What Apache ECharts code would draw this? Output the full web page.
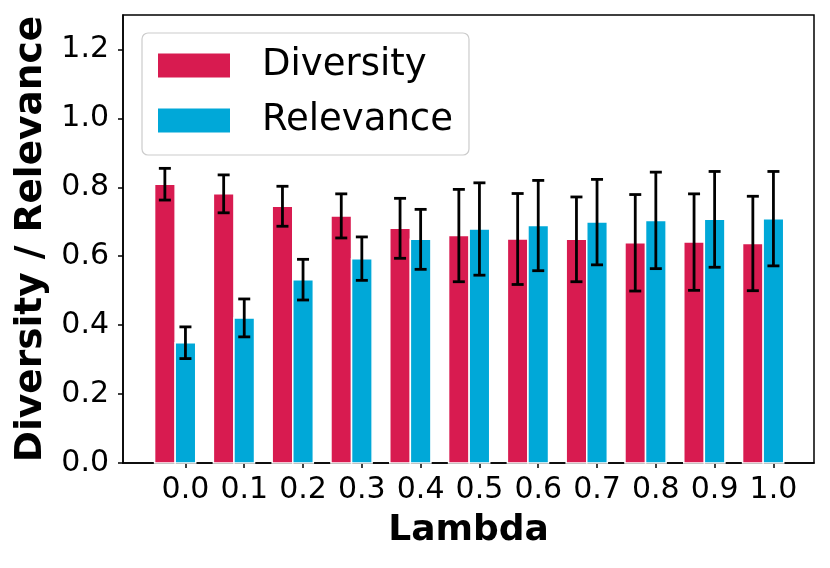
<!DOCTYPE html>
<html>
<head>
<meta charset="utf-8">
<script src="https://cdn.jsdelivr.net/npm/echarts@6/dist/echarts.min.js"></script>
<style>html,body{margin:0;padding:0;background:#fff;}#c{width:830px;height:568px;}</style>
</head>
<body>
<div id="c"></div>
<script>
const lambdaLabels = ['0.0','0.1','0.2','0.3','0.4','0.5','0.6','0.7','0.8','0.9','1.0'];
const diversity = [0.809, 0.781, 0.745, 0.717, 0.681, 0.660, 0.650, 0.649, 0.639, 0.641, 0.637];
const diversityErr = [0.046, 0.055, 0.058, 0.064, 0.087, 0.134, 0.132, 0.123, 0.140, 0.140, 0.137];
const relevance = [0.349, 0.421, 0.532, 0.593, 0.649, 0.679, 0.689, 0.699, 0.704, 0.707, 0.709];
const relevanceErr = [0.046, 0.055, 0.059, 0.063, 0.087, 0.134, 0.131, 0.124, 0.140, 0.139, 0.137];
const yTicks = [0, 0.2, 0.4, 0.6, 0.8, 1.0, 1.2];

const RED = '#d81b50', BLUE = '#00a8d8';
const BAR_W = 0.35, RED_OFF = -0.35, BLUE_OFF = 0;
const FONT = 'DejaVu Sans';

function barSeries(name, vals, off, color) {
  return {
    name: name, type: 'custom', itemStyle: {color: color},
    data: vals.map((v, i) => [i, v]),
    renderItem: function (params, api) {
      const x = api.value(0) + off;
      const top = api.coord([x, api.value(1)]);
      const bot = api.coord([x, 0]);
      const w = api.size([BAR_W, 0])[0];
      return {type: 'rect', shape: {x: top[0] - w / 2, y: top[1], width: w, height: bot[1] - top[1]},
        style: {fill: color, stroke: '#ffffff', lineWidth: 1.5}};
    },
    z: 2
  };
}
function errSeries(vals, errs, off) {
  return {
    type: 'custom',
    data: vals.map((v, i) => [i, v - errs[i], v + errs[i]]),
    renderItem: function (params, api) {
      const x = api.value(0) + off;
      const lo = api.coord([x, api.value(1)]);
      const hi = api.coord([x, api.value(2)]);
      const cw = 6;
      const st = {stroke: '#000', lineWidth: 2.8};
      return {type: 'group', children: [
        {type: 'line', shape: {x1: lo[0], y1: lo[1], x2: hi[0], y2: hi[1]}, style: st},
        {type: 'line', shape: {x1: lo[0] - cw, y1: lo[1], x2: lo[0] + cw, y2: lo[1]}, style: st},
        {type: 'line', shape: {x1: hi[0] - cw, y1: hi[1], x2: hi[0] + cw, y2: hi[1]}, style: st}
      ]};
    },
    z: 3
  };
}

const chart = echarts.init(document.getElementById('c'));
chart.setOption({
  animation: false,
  backgroundColor: '#fff',
  textStyle: {fontFamily: FONT},
  grid: {left: 123, right: 16, top: 15, bottom: 105, show: true, borderColor: '#000', borderWidth: 1.5, backgroundColor: 'transparent'},
  legend: {
    orient: 'vertical', left: 142, top: 33,
    data: ['Diversity', 'Relevance'],
    icon: 'rect', itemWidth: 72, itemHeight: 24, itemGap: 18,
    padding: [14, 16, 16, 16],
    borderColor: '#cccccc', borderWidth: 1.2, borderRadius: 6, backgroundColor: '#fff',
    textStyle: {fontFamily: FONT, fontSize: 37, color: '#000', padding: [0, 0, 0, 27], lineHeight: 37}
  },
  xAxis: {
    type: 'value', min: -1.062, max: 10.69,
    name: 'Lambda', nameLocation: 'middle', nameGap: 50,
    nameTextStyle: {fontFamily: FONT, fontSize: 36, fontWeight: 'bold', color: '#000'},
    axisLine: {show: true, onZero: false, lineStyle: {color: '#000', width: 1.5}},
    axisTick: {show: true, customValues: lambdaLabels.map((s, i) => i), length: 5, lineStyle: {color: '#000', width: 1.5}},
    axisLabel: {customValues: lambdaLabels.map((s, i) => i), formatter: v => lambdaLabels[Math.round(v)], fontFamily: FONT, fontSize: 30, color: '#000', margin: 12},
    splitLine: {show: false}
  },
  yAxis: {
    type: 'value', min: 0, max: 1.3,
    name: 'Diversity / Relevance', nameLocation: 'middle', nameGap: 72, nameRotate: 90,
    nameTextStyle: {fontFamily: FONT, fontSize: 37.5, fontWeight: 'bold', color: '#000'},
    axisLine: {show: true, onZero: false, lineStyle: {color: '#000', width: 1.5}},
    axisTick: {show: true, customValues: yTicks, length: 5, lineStyle: {color: '#000', width: 1.5}},
    axisLabel: {customValues: yTicks, formatter: v => v.toFixed(1), fontFamily: FONT, fontSize: 30, color: '#000', margin: 14},
    splitLine: {show: false}
  },
  series: [
    barSeries('Diversity', diversity, RED_OFF, RED),
    barSeries('Relevance', relevance, BLUE_OFF, BLUE),
    errSeries(diversity, diversityErr, RED_OFF),
    errSeries(relevance, relevanceErr, BLUE_OFF)
  ]
});
</script>
</body>
</html>
